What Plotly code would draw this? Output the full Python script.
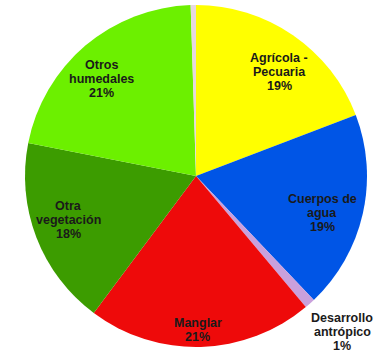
import math
import plotly.graph_objects as go

# Land-cover shares (percent), clockwise from 12 o'clock
labels = ["Agrícola -<br>Pecuaria", "Cuerpos de<br>agua", "Desarrollo<br>antrópico",
          "Manglar", "Otra<br>vegetación", "Otros<br>humedales", "Otros"]
values = [19.2, 18.7, 1.0, 21.3, 17.9, 21.4, 0.5]
colors = ["#FFFF00", "#0055E6", "#C9A0DC", "#EE0A0A", "#3C9C00", "#6CF000", "#E6D8E0"]
show_label = [True, True, True, True, True, True, False]
# label placement: fraction of the pie radius and angular nudge (degrees)
label_radius = [0.78, 0.77, 1.25, 0.90, 0.79, 0.795, 0.0]
label_nudge = [4.0, 3.5, -1.5, 1.0, 2.0, -4.0, 0.0]

W, H = 385, 352
cx_px, cy_px, r_px = 196, 176, 171

fig = go.Figure(go.Pie(
    labels=labels,
    values=values,
    marker=dict(colors=colors, line=dict(width=0)),
    sort=False,
    direction="clockwise",
    rotation=0,
    textinfo="none",
    hoverinfo="skip",
    showlegend=False,
    domain=dict(x=[(cx_px - r_px) / W, (cx_px + r_px) / W],
                y=[1 - (cy_px + r_px) / H, 1 - (cy_px - r_px) / H]),
))

total = sum(values)
cum = 0.0
annotations = []
for lab, v, show, fr, nudge in zip(labels, values, show_label, label_radius, label_nudge):
    mid = (cum + v / 2) / total * 2 * math.pi + math.radians(nudge)
    cum += v
    if not show:
        continue
    x = (cx_px + fr * r_px * math.sin(mid)) / W
    y = 1 - (cy_px - fr * r_px * math.cos(mid)) / H
    lines = lab.split("<br>") + [f"{round(v / total * 100)}%"]
    n = len(lines)
    for i, line in enumerate(lines):
        annotations.append(dict(
            x=x, y=y, xref="paper", yref="paper",
            text=f"<b>{line}</b>", showarrow=False,
            yshift=-(i - (n - 1) / 2) * 14,
            font=dict(family="Liberation Sans, Arial, sans-serif", size=12.5, color="#1a1a1a"),
            xanchor="center", yanchor="middle",
        ))

fig.update_layout(
    width=W, height=H,
    margin=dict(l=0, r=0, t=0, b=0),
    paper_bgcolor="white",
    plot_bgcolor="white",
    annotations=annotations,
)

fig.write_html("out.html")
